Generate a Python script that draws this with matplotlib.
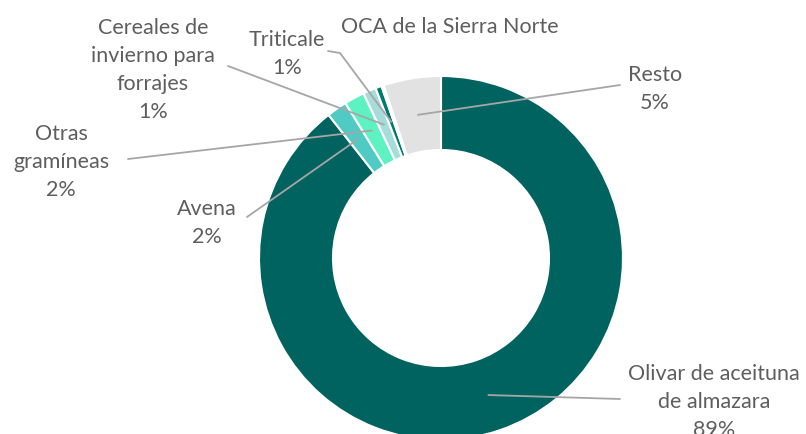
import numpy as np
import matplotlib.pyplot as plt

# slices, clockwise from the top
names = ["Olivar de aceituna\nde almazara", "Avena", "Otras\ngramíneas",
         "Cereales de\ninvierno para\nforrajes", "Triticale",
         "OCA de la Sierra Norte", "Resto"]
values = [89.4, 1.8, 1.8, 1.15, 0.55, 0.2, 5.1]
show_pct = [True, True, True, True, True, False, True]
colors = ["#00635F", "#4FCBC4", "#5EF2C2", "#A6DCDA", "#00796F", "#FFFFFF", "#E2E2E2"]

W, H = 806, 435
fig = plt.figure(figsize=(W / 100, H / 100), dpi=100)
ax = fig.add_axes([0, 0, 1, 1])

cx, cy, r_out, ring = 441, H - 259, 182, 74
wedges, _ = ax.pie(values, colors=colors, startangle=90, counterclock=False,
                   center=(cx, cy), radius=r_out, frame=True,
                   wedgeprops=dict(width=ring, edgecolor="white", linewidth=1.5))
ax.set_xlim(0, W)
ax.set_ylim(0, H)
ax.set_aspect("equal")
ax.axis("off")

# label block centre and where the leader line leaves the label (pixel coords, y down)
label_pos = [(714, 402), (207, 223), (61, 162), (153, 70), (287, 54), (450, 27), (655, 89)]
line_start = [[(620, 400)], [(247, 218)], [(128, 160)], [(228, 67)],
              [(328, 52), (340, 54)], None, [(620, 86)]]

total = sum(values)
for w, name, v, sp, (lx, ly), ls in zip(wedges, names, values, show_pct, label_pos, line_start):
    txt = name + ("\n{:.0f}%".format(round(100 * v / total)) if sp else "")
    ax.text(lx, H - ly, txt, ha="center", va="center", multialignment="center",
            fontsize=15.5, color="#5E5E5E", family=["Lato", "DejaVu Sans"], linespacing=1.5)
    if ls is None:
        continue
    mid = np.deg2rad((w.theta1 + w.theta2) / 2)
    rm = r_out - ring / 2
    end = (cx + rm * np.cos(mid), cy + rm * np.sin(mid))
    pts = [(x, H - y) for x, y in ls] + [end]
    xs, ys = zip(*pts)
    ax.plot(xs, ys, color="#A6A6A6", lw=1.3, solid_capstyle="round")

fig.savefig("out.png", dpi=100)
